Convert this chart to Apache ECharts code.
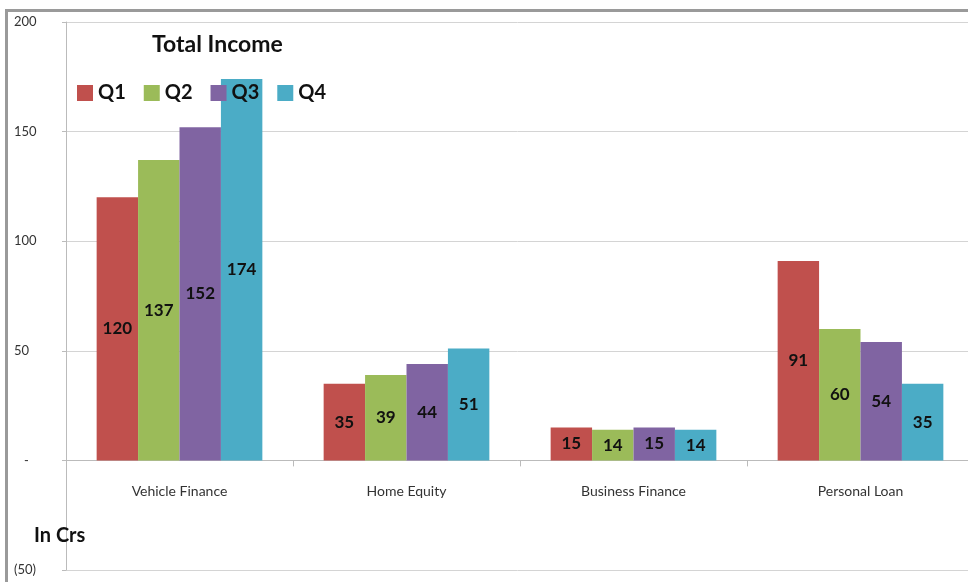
<!DOCTYPE html>
<html>
<head>
<meta charset="utf-8">
<script src="https://cdn.jsdelivr.net/npm/echarts@6/dist/echarts.min.js"></script>
<style>
  html, body { margin: 0; padding: 0; background: #fff; }
  #chart { width: 968px; height: 582px; }
</style>
</head>
<body>
<div id="chart"></div>
<script>
// Total income by business line, per quarter (in Crs)
const categories = ['Vehicle Finance', 'Home Equity', 'Business Finance', 'Personal Loan'];
const seriesNames = ['Q1', 'Q2', 'Q3', 'Q4'];
const q1 = [120, 35, 15, 91];
const q2 = [137, 39, 14, 60];
const q3 = [152, 44, 15, 54];
const q4 = [174, 51, 14, 35];
const colors = ['#C0504D', '#9BBB59', '#8064A2', '#4BACC6'];
const yTicks = [-50, 0, 50, 100, 150, 200];

const FONT = 'Lato, "Open Sans", "Noto Sans", sans-serif';
const values = [q1, q2, q3, q4];

const chart = echarts.init(document.getElementById('chart'), null, { renderer: 'canvas' });

const series = seriesNames.map((name, i) => ({
  name: name,
  type: 'bar',
  xAxisIndex: 0,
  data: values[i],
  barGap: '0%',
  barCategoryGap: '27%',
  itemStyle: { color: colors[i] },
  label: {
    show: true,
    position: 'inside',
    color: '#111',
    fontFamily: FONT,
    fontSize: 17,
    fontWeight: 'bold'
  },
  z: 2
}));

// share of the plot height taken by the span below zero
const yMin = yTicks[0], yMax = yTicks[yTicks.length - 1];
const plotTop = 22, plotBottom = 570;
const zeroOffset = -(plotBottom - plotTop) * (0 - yMin) / (yMax - yMin);

chart.setOption({
  animation: false,
  backgroundColor: '#fff',
  title: {
    text: 'Total Income',
    left: 147,
    top: 28,
    textStyle: { fontFamily: FONT, fontSize: 23, fontWeight: 'bold', color: '#111' }
  },
  legend: {
    data: seriesNames,
    left: 72,
    top: 78,
    itemWidth: 16,
    itemHeight: 16,
    itemGap: 18,
    icon: 'rect',
    z: 10,
    textStyle: { fontFamily: FONT, fontSize: 20, fontWeight: 'bold', color: '#111' }
  },
  grid: {
    left: 66, right: -6, top: plotTop, bottom: 582 - plotBottom,
    containLabel: false, outerBoundsMode: 'none'
  },
  xAxis: [
    {
      type: 'category',
      data: categories,
      axisLine: { onZero: true, lineStyle: { color: '#bbb', width: 1 } },
      axisTick: { show: true, length: 6, alignWithLabel: false, lineStyle: { color: '#bbb' } },
      axisLabel: { show: false },
      splitLine: { show: false }
    },
    {
      // category names sit just under the zero line
      type: 'category',
      data: categories,
      position: 'bottom',
      offset: zeroOffset,
      axisLine: { show: false },
      axisTick: { show: false },
      axisLabel: { margin: 24, color: '#333', fontFamily: FONT, fontSize: 14 },
      splitLine: { show: false }
    }
  ],
  yAxis: {
    type: 'value',
    min: yMin,
    max: yMax,
    interval: 50,
    axisLine: { show: true, lineStyle: { color: '#bbb' } },
    axisTick: { show: true, length: 4, lineStyle: { color: '#bbb' } },
    splitLine: { show: true, lineStyle: { color: '#d4d4d4', width: 1 } },
    axisLabel: {
      align: 'left',
      margin: 52,
      color: '#333',
      fontFamily: FONT,
      fontSize: 13,
      formatter: function (v) {
        if (v === 0) return '   -';
        if (v < 0) return '(' + Math.abs(v) + ')';
        return String(v);
      }
    }
  },
  graphic: [
    {
      type: 'rect',
      left: 4,
      top: 8,
      shape: { width: 1000, height: 600 },
      style: { fill: 'none', stroke: '#9a9a9a', lineWidth: 3 },
      z: 100
    },
    {
      type: 'text',
      left: 34,
      top: 526,
      style: { text: 'In Crs', fill: '#111', font: 'bold 20px ' + FONT },
      z: 100
    }
  ],
  series: series
});
</script>
</body>
</html>
